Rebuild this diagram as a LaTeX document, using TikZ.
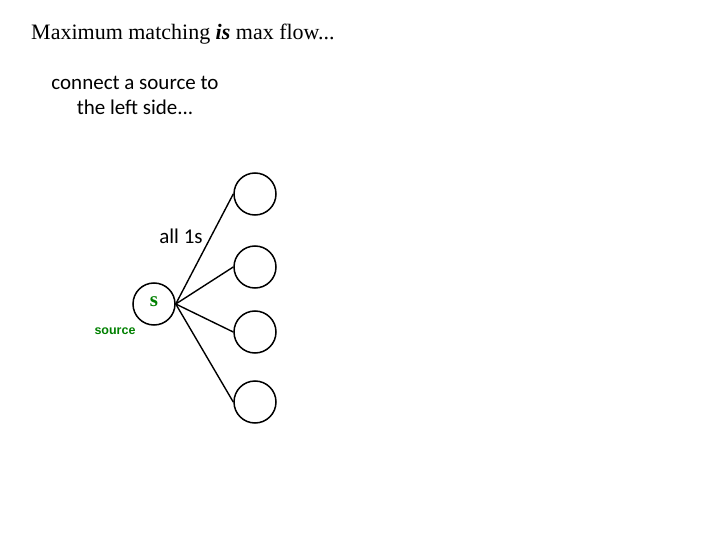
\documentclass[tikz,border=0pt]{standalone}
\usepackage{fontspec}
\setmainfont{Liberation Serif}
\newfontfamily\calibri{Carlito}
\newfontfamily\arialfont{Liberation Sans}
\usepackage{xcolor}
\usetikzlibrary{positioning}
\definecolor{srcgreen}{RGB}{0,128,0}

\begin{document}
\begin{tikzpicture}[
  x=1pt,y=-1pt,
  vtx/.style={draw,circle,line width=1.5pt,minimum size=42pt,inner sep=0pt},
  edge/.style={line width=1.4pt},
  note/.style={font=\calibri\fontsize{21}{25}\selectfont,align=center,inner sep=0pt},
]
\useasboundingbox (0,0) rectangle (720,540);

\node[anchor=west,inner sep=0pt,font=\fontsize{22}{26}\selectfont] (title) at (31,34)
  {Maximum matching \textbf{\textit{is}} max flow...};
\node[note] (hint) at (135,95) {connect a source to\\the left side...};

\node[vtx] (s) at (154,304) {};
\node[text=srcgreen,font=\bfseries\fontsize{21}{21}\selectfont] (slbl) at (154,302) {s};
\node[text=srcgreen,font=\arialfont\bfseries\fontsize{12.5}{12}\selectfont,inner sep=0pt] (src) at (115,331) {source};

\node[vtx] (r1) at (255,194) {};
\node[vtx] (r2) at (255,267) {};
\node[vtx] (r3) at (255,332) {};
\node[vtx] (r4) at (255,402) {};

\draw[edge] (s.east) -- (r1.west);
\draw[edge] (s.east) -- (r2.west);
\draw[edge] (s.east) -- (r3.west);
\draw[edge] (s.east) -- (r4.west);

\node[note] (ones) at (181,236) {all 1s};
\end{tikzpicture}
\end{document}
